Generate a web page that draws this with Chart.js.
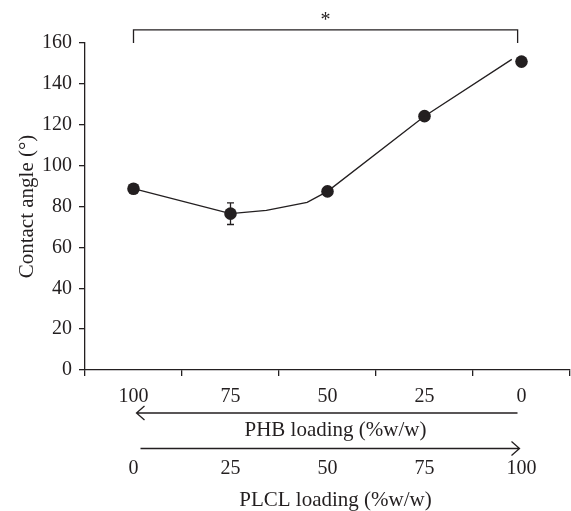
<!DOCTYPE html>
<html>
<head>
<meta charset="utf-8">
<script src="https://cdn.jsdelivr.net/npm/chart.js@4"></script>
<style>
html,body{margin:0;padding:0;background:#fff;}
#wrap{width:571px;height:511px;}
</style>
</head>
<body>
<div id="wrap"><canvas id="c" width="571" height="511"></canvas></div>
<script>
const phbLabels = ['100', '75', '50', '25', '0'];
const plclLabels = ['0', '25', '50', '75', '100'];
const contactAngle = [88.7, 76.5, 87.4, 124.2, 150.9];
const contactErr = [0, 5.3, 0, 0, 0];
const lineX = [0, 1, 1.37, 1.79, 2, 3, 3.9];
const lineY = [88.7, 76.5, 78.1, 82.0, 87.4, 124.2, 152.0];
const yTicks = [0, 20, 40, 60, 80, 100, 120, 140, 160];
const bracket = { from: 0, to: 3.96, top: 166.4, bottom: 160, star: 1.98 };

const INK = '#231f20';
const FONT = "'Liberation Serif', 'Times New Roman', serif";
const FS = 20;
const TFS = 21;

const extras = {
  id: 'extras',
  afterDatasetsDraw(chart) {
    const ctx = chart.ctx;
    const xs = chart.scales.xl, ys = chart.scales.y;
    ctx.save();
    ctx.strokeStyle = INK;
    ctx.fillStyle = INK;
    ctx.lineWidth = 1.3;
    contactAngle.forEach((v, i) => {
      const e = contactErr[i];
      if (!e) return;
      const px = xs.getPixelForValue(i);
      const y1 = ys.getPixelForValue(v + e), y2 = ys.getPixelForValue(v - e);
      ctx.beginPath();
      ctx.moveTo(px, y1); ctx.lineTo(px, y2);
      ctx.moveTo(px - 3.5, y1); ctx.lineTo(px + 3.5, y1);
      ctx.moveTo(px - 3.5, y2); ctx.lineTo(px + 3.5, y2);
      ctx.stroke();
    });
    ctx.restore();
  },
  afterDraw(chart) {
    const ctx = chart.ctx;
    const xs = chart.scales.xl, ys = chart.scales.y;
    const area = chart.chartArea;
    ctx.save();
    ctx.strokeStyle = INK;
    ctx.fillStyle = INK;
    ctx.lineWidth = 1.3;
    const bx1 = xs.getPixelForValue(bracket.from), bx2 = xs.getPixelForValue(bracket.to);
    const by1 = ys.getPixelForValue(bracket.top), by2 = ys.getPixelForValue(bracket.bottom);
    ctx.beginPath();
    ctx.moveTo(bx1, by2); ctx.lineTo(bx1, by1); ctx.lineTo(bx2, by1); ctx.lineTo(bx2, by2);
    ctx.stroke();
    ctx.font = FS + 'px ' + FONT;
    ctx.textAlign = 'center';
    ctx.textBaseline = 'alphabetic';
    ctx.fillText('*', xs.getPixelForValue(bracket.star), by1 - 4);

    const b = area.bottom;
    const left = xs.getPixelForValue(0), right = xs.getPixelForValue(4);
    let ay = b + 43;
    ctx.beginPath();
    ctx.moveTo(right - 4, ay); ctx.lineTo(left + 3, ay);
    ctx.moveTo(left + 11, ay - 7); ctx.lineTo(left + 3, ay); ctx.lineTo(left + 11, ay + 7);
    ctx.stroke();
    ctx.font = TFS + 'px ' + FONT;
    ctx.fillText('PHB loading (%w/w)', (area.left + area.right) / 2 + 8, b + 65.5);
    ay = b + 78.5;
    ctx.beginPath();
    ctx.moveTo(left + 7, ay); ctx.lineTo(right - 2, ay);
    ctx.moveTo(right - 10, ay - 7); ctx.lineTo(right - 2, ay); ctx.lineTo(right - 10, ay + 7);
    ctx.stroke();
    ctx.font = FS + 'px ' + FONT;
    plclLabels.forEach((t, i) => {
      ctx.fillText(t, xs.getPixelForValue(i), b + 103.5);
    });
    ctx.font = TFS + 'px ' + FONT;
    ctx.fillText('PLCL loading (%w/w)', (area.left + area.right) / 2 + 8, b + 136);
    ctx.restore();
  }
};

new Chart(document.getElementById('c'), {
  type: 'line',
  data: {
    labels: phbLabels,
    datasets: [
      {
        type: 'line',
        xAxisID: 'xl',
        data: lineX.map((x, i) => ({ x: x, y: lineY[i] })),
        borderColor: INK,
        borderWidth: 1.3,
        pointRadius: 0,
        tension: 0,
        fill: false
      },
      {
        type: 'line',
        xAxisID: 'x',
        data: contactAngle,
        showLine: false,
        pointRadius: 6.3,
        pointBackgroundColor: INK,
        pointBorderColor: INK,
        pointBorderWidth: 0
      }
    ]
  },
  plugins: [extras],
  options: {
    responsive: false,
    animation: false,
    devicePixelRatio: 1,
    layout: { autoPadding: false, padding: { top: 43, right: 1, bottom: 103, left: 15 } },
    plugins: { legend: { display: false }, tooltip: { enabled: false } },
    scales: {
      x: {
        type: 'category',
        offset: true,
        afterFit(s) { s.height = 38; s.paddingLeft = 0; s.paddingRight = 0; },
        grid: { offset: true, drawOnChartArea: false, drawTicks: true, tickLength: 6, color: INK, lineWidth: 1.3 },
        border: { display: true, color: INK, width: 1.3 },
        ticks: { color: INK, font: { family: FONT, size: FS }, padding: 9, maxRotation: 0, autoSkip: false }
      },
      xl: {
        type: 'linear',
        display: false,
        min: -0.5,
        max: 4.5
      },
      y: {
        min: 0,
        max: 160,
        afterFit(s) { s.width = 70; s.paddingTop = 0; s.paddingBottom = 0; },
        afterBuildTicks(s) { s.ticks = yTicks.map(v => ({ value: v })); },
        grid: { drawOnChartArea: false, drawTicks: true, tickLength: 6, color: INK, lineWidth: 1.3 },
        border: { display: true, color: INK, width: 1.3 },
        ticks: { color: INK, font: { family: FONT, size: FS }, padding: 7 },
        title: { display: true, text: 'Contact angle (°)', color: INK, font: { family: FONT, size: TFS }, padding: { top: 0, bottom: 0 } }
      }
    }
  }
});
</script>
</body>
</html>
